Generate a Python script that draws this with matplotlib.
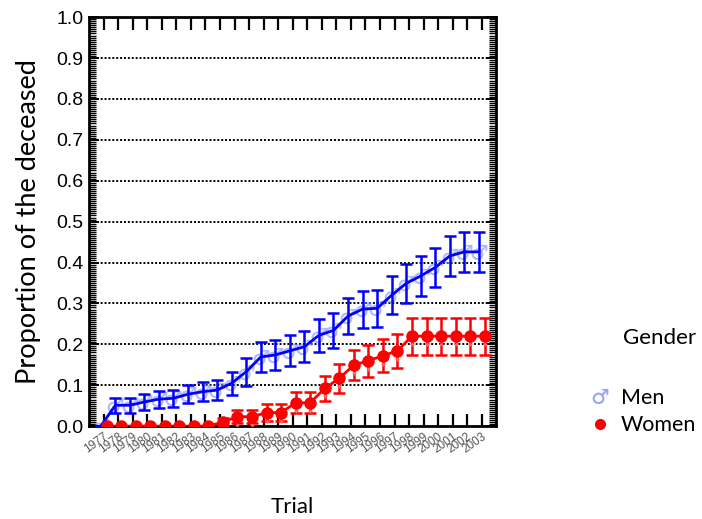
import numpy as np
import matplotlib
matplotlib.use("Agg")
import matplotlib.pyplot as plt
from matplotlib.path import Path
from matplotlib.lines import Line2D
from matplotlib.ticker import MultipleLocator

years = list(range(1977, 2004))
men = [0.0, 0.051, 0.051, 0.059, 0.066, 0.068, 0.078, 0.084, 0.088, 0.105,
       0.133, 0.169, 0.174, 0.184, 0.194, 0.222, 0.234, 0.269, 0.286, 0.288,
       0.320, 0.349, 0.367, 0.388, 0.416, 0.426, 0.426]
men_err = [0.0, 0.018, 0.018, 0.020, 0.021, 0.021, 0.022, 0.023, 0.025, 0.028,
           0.034, 0.036, 0.037, 0.038, 0.038, 0.041, 0.042, 0.044, 0.045, 0.045,
           0.046, 0.048, 0.048, 0.048, 0.049, 0.049, 0.049]
women = [0.0, 0.0, 0.0, 0.0, 0.0, 0.0, 0.0, 0.0, 0.010, 0.023,
         0.023, 0.033, 0.033, 0.057, 0.057, 0.092, 0.117, 0.149, 0.160, 0.172,
         0.184, 0.220, 0.220, 0.220, 0.220, 0.220, 0.220]
women_err = [0.0, 0.0, 0.0, 0.0, 0.0, 0.0, 0.0, 0.0, 0.010, 0.016,
             0.016, 0.020, 0.020, 0.026, 0.026, 0.030, 0.035, 0.037, 0.039, 0.040,
             0.041, 0.045, 0.045, 0.045, 0.045, 0.045, 0.045]
yticks = [0.0, 0.1, 0.2, 0.3, 0.4, 0.5, 0.6, 0.7, 0.8, 0.9, 1.0]

BLUE = "#0000ff"
RED = "#ff0000"
MALE_C = "#7f8cff"
txt_font = ["Lato", "DejaVu Sans"]

# small cross drawn below the point (the foot of the female sign)
cross = Path([(-0.45, -1.75), (0.45, -1.75), (0, -1.3), (0, -2.2), (0, 2.2)],
             [Path.MOVETO, Path.LINETO, Path.MOVETO, Path.LINETO, Path.MOVETO])

fig = plt.figure(figsize=(7.02, 5.19), dpi=100)
ax = fig.add_axes([0.127, 0.179, 0.580, 0.788])

x = np.array(years, dtype=float)
xm = x - 0.2
xw = x + 0.2

# men
ax.plot(xm, men, ls="none", marker="$\u2642$", ms=11, color=MALE_C,
        mew=0.2, alpha=0.6, zorder=2)
ax.errorbar(xm, men, yerr=men_err, fmt="none", ecolor=BLUE, elinewidth=1.8,
            capsize=4, capthick=1.8, zorder=3)
ax.plot(xm, men, color=BLUE, lw=2, zorder=4)

# women
ax.errorbar(xw, women, yerr=women_err, fmt="none", ecolor=RED, elinewidth=1.8,
            capsize=4, capthick=1.8, zorder=3)
ax.plot(xw, women, color=RED, lw=2, zorder=4)
ax.plot(xw, women, ls="none", marker=cross, ms=15, mec="#ff6a6a",
        mfc="none", mew=1, zorder=5)
ax.plot(xw, women, ls="none", marker="o", ms=8, color=RED, zorder=6)

ax.set_xlim(1976, 2004)
ax.set_ylim(0, 1.0)
ax.set_xticks(years)
ax.set_xticklabels([str(y) for y in years], rotation=35, ha="right",
                   va="top", rotation_mode="anchor", fontsize=8.5,
                   color="#555555", family="Liberation Sans")
ax.set_yticks(yticks)
ax.set_yticklabels([f"{v:.1f}" for v in yticks], fontsize=14,
                   family="Liberation Sans")
ax.yaxis.set_minor_locator(MultipleLocator(0.005))

ax.tick_params(axis="x", which="major", direction="in", length=9, width=1.6,
               top=True, bottom=True, pad=3)
ax.tick_params(axis="y", which="major", direction="in", length=7, width=1.4,
               left=True, right=True, pad=4)
ax.tick_params(axis="y", which="minor", direction="in", length=5, width=1.0,
               left=True, right=True)

for s in ax.spines.values():
    s.set_linewidth(2)

for v in yticks[1:-1]:
    ax.axhline(v, color="black", lw=1.4, ls=(0, (1, 1)), zorder=1)

ax.set_ylabel("Proportion of the deceased", fontsize=19.5, family=txt_font,
              labelpad=11)
ax.set_xlabel("Trial", fontsize=16, family=txt_font, labelpad=30)

# legend
fig.text(0.887, 0.348, "Gender", fontsize=16, family=txt_font,
         ha="left", va="center")
handles = [
    Line2D([], [], ls="none", marker="$\u2642$", ms=11, color=MALE_C,
           mew=0.2, alpha=0.8),
    Line2D([], [], ls="none", marker="o", ms=7, color=RED),
]
fig.legend(handles, ["Men", "Women"], loc="upper left",
           bbox_to_anchor=(0.808, 0.29), frameon=False,
           prop={"family": txt_font, "size": 15.5}, handletextpad=0.4,
           labelspacing=0.35, handlelength=1.2)

fig.savefig("out.png", dpi=100)
